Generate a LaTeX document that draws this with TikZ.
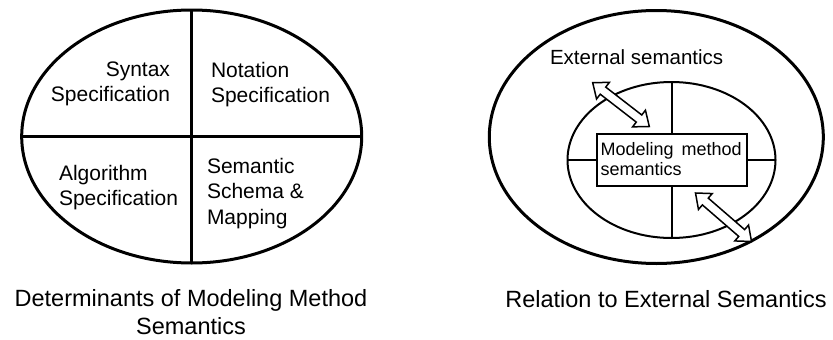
\documentclass[tikz,border=0pt]{standalone}
\usepackage{fontspec}
\setmainfont{Liberation Sans}
\usetikzlibrary{shapes.geometric,calc}
\newcommand\bigtxt{\fontsize{21}{25.5}\selectfont}
\newcommand\captxt{\fontsize{23.5}{28}\selectfont}
\newcommand\medtxt{\fontsize{20.5}{24}\selectfont}
\newcommand\smalltxt{\fontsize{18}{20}\selectfont}
\tikzset{
  thickline/.style={line width=3pt},
  thinline/.style={line width=2pt},
  oval/.style={ellipse, draw, inner sep=0pt, outer sep=0pt},
  lbl/.style={inner sep=0pt, outer sep=0pt},
  blockarrow/.style={draw, fill=white, line width=1.5pt, line join=miter},
}
\newcommand\dblarrow[2]{%
  \draw[blockarrow] (#1)
    -- ($(#1)!13pt!(#2)!10.5pt!90:(#2)$)
    -- ($(#1)!13pt!(#2)!4.5pt!90:(#2)$)
    -- ($(#2)!13pt!(#1)!4.5pt!-90:(#1)$)
    -- ($(#2)!13pt!(#1)!10.5pt!-90:(#1)$)
    -- (#2)
    -- ($(#2)!13pt!(#1)!10.5pt!90:(#1)$)
    -- ($(#2)!13pt!(#1)!4.5pt!90:(#1)$)
    -- ($(#1)!13pt!(#2)!4.5pt!-90:(#2)$)
    -- ($(#1)!13pt!(#2)!10.5pt!-90:(#2)$)
    -- cycle;}
\begin{document}
\begin{tikzpicture}[x=1pt,y=-1pt]
\useasboundingbox (0,0) rectangle (833,340);

% ---------- left figure ----------
\node[oval, thickline, minimum width=340pt, minimum height=253pt] (L) at (191.7,136.5) {};
\draw[thickline] (L.north) -- (L.south);
\draw[thickline] (L.west) -- (L.east);

\node[lbl, anchor=base east] (syn) at (170,76)
  {\bigtxt\begin{tabular}[t]{@{}r@{}}Syntax\\Specification\end{tabular}};
\node[lbl, anchor=base west] (nota) at (211,77)
  {\bigtxt\begin{tabular}[t]{@{}l@{}}Notation\\Specification\end{tabular}};
\node[lbl, anchor=base west] (alg) at (59,180)
  {\bigtxt\begin{tabular}[t]{@{}l@{}}Algorithm\\Specification\end{tabular}};
\node[lbl, anchor=base west] (sem) at (207,173)
  {\bigtxt\begin{tabular}[t]{@{}l@{}}Semantic\\Schema \&\\Mapping\end{tabular}};

\node[lbl, anchor=base] (capL) at (191,306)
  {\captxt\begin{tabular}[t]{@{}c@{}}Determinants of Modeling Method\\Semantics\end{tabular}};

% ---------- right figure ----------
\node[oval, thickline, minimum width=334pt, minimum height=253pt] (R) at (656.3,137) {};
\node[oval, thinline, minimum width=208pt, minimum height=156pt] (I) at (671.5,160) {};
\draw[thinline] (I.north) -- (I.south);
\draw[thinline] (I.west) -- (I.east);
\node[draw, thinline, fill=white, minimum width=150pt, minimum height=51.7pt, inner sep=0pt] (box) at (672.3,160.2) {};
\node[lbl, anchor=base west] (boxtext) at (600.7,155.7)
  {\smalltxt\begin{tabular}[t]{@{}l@{}}\makebox[141pt][s]{Modeling method}\\semantics\end{tabular}};

\node[lbl, anchor=base west] (ext) at (550,64) {\medtxt External semantics};

\coordinate (a1) at (592.7,82.7);
\coordinate (b1) at (649.3,126.5);
\coordinate (a2) at (695.5,193);
\coordinate (b2) at (751.5,241.5);
\dblarrow{a1}{b1}
\dblarrow{a2}{b2}

\node[lbl, anchor=base] (capR) at (666,307) {\captxt Relation to External Semantics};
\end{tikzpicture}
\end{document}
